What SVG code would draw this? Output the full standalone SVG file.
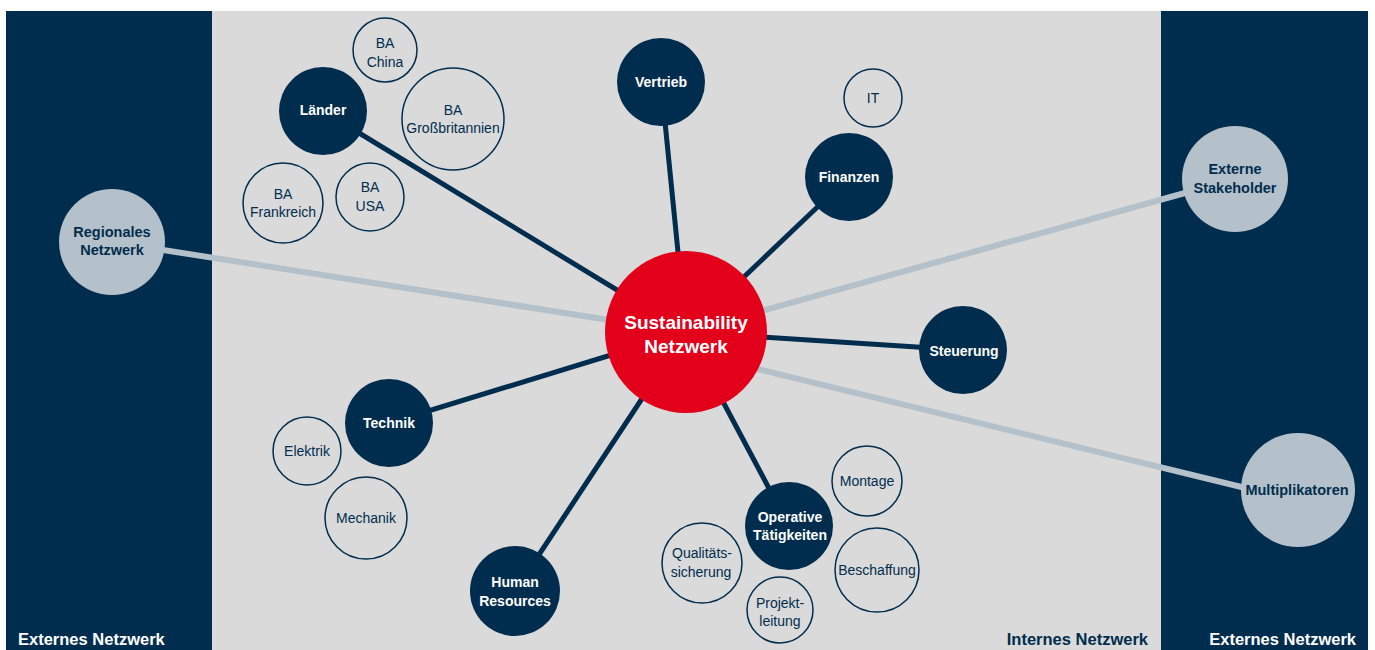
<svg xmlns="http://www.w3.org/2000/svg" width="1375" height="650" viewBox="0 0 1375 650">
<style>
.dark{fill:#002d4e}
.light{fill:#b4c1ca}
.outline{fill:none;stroke:#002d4e;stroke-width:1.5}
.hub{fill:#e2001a}
text{font-family:"Liberation Sans",Arial,sans-serif;text-anchor:middle;dominant-baseline:central}
.tw{fill:#ffffff;font-size:14px;font-weight:bold}
.td{fill:#002d4e;font-size:14.5px;font-weight:bold}
.to{fill:#002d4e;font-size:14px}
.th{fill:#ffffff;font-size:19px;font-weight:bold}
.lab{font-size:16.5px;font-weight:bold;text-anchor:start;dominant-baseline:auto}
.cd{stroke:#002d4e;stroke-width:5;fill:none}
.cl{stroke:#b4c1ca;stroke-width:6;fill:none}
</style>
<rect x="0" y="0" width="1375" height="650" fill="#ffffff"/>
<rect x="212" y="11" width="949" height="639" fill="#dadada"/>
<rect x="6" y="11" width="206" height="639" fill="#002d4e"/>
<rect x="1161" y="11" width="207" height="639" fill="#002d4e"/>
<text class="lab" x="18" y="645" fill="#ffffff">Externes Netzwerk</text>
<text class="lab" x="1148" y="645" fill="#002d4e" style="text-anchor:end">Internes Netzwerk</text>
<text class="lab" x="1356" y="645" fill="#ffffff" style="text-anchor:end">Externes Netzwerk</text>
<g id="connectors">
<line class="cl" x1="112" y1="242" x2="686" y2="332"/>
<line class="cl" x1="1235" y1="179" x2="686" y2="332"/>
<line class="cl" x1="700" y1="355" x2="1262" y2="492"/>
<line class="cd" x1="323" y1="111" x2="686" y2="332"/>
<line class="cd" x1="661" y1="82" x2="686" y2="332"/>
<line class="cd" x1="849" y1="177" x2="686" y2="332"/>
<line class="cd" x1="963" y1="350" x2="686" y2="332"/>
<line class="cd" x1="389" y1="423" x2="686" y2="332"/>
<line class="cd" x1="515" y1="591" x2="686" y2="332"/>
<line class="cd" x1="789" y1="526" x2="686" y2="332"/>
</g>
<g id="hub"><circle class="hub" cx="686" cy="332" r="81"/><text class="th" x="686" y="322">Sustainability</text><text class="th" x="686" y="346">Netzwerk</text></g>
<g id="laender"><circle class="dark" cx="323" cy="111" r="44"/><text class="tw" x="323" y="110">Länder</text></g>
<g id="vertrieb"><circle class="dark" cx="661" cy="82" r="44"/><text class="tw" x="661" y="82">Vertrieb</text></g>
<g id="finanzen"><circle class="dark" cx="849" cy="177" r="44"/><text class="tw" x="849" y="177">Finanzen</text></g>
<g id="steuerung"><circle class="dark" cx="963" cy="350" r="44"/><text class="tw" x="964" y="351">Steuerung</text></g>
<g id="technik"><circle class="dark" cx="389" cy="423" r="44"/><text class="tw" x="389" y="423">Technik</text></g>
<g id="hr"><circle class="dark" cx="515" cy="591" r="45"/><text class="tw" x="515" y="582">Human</text><text class="tw" x="515" y="601">Resources</text></g>
<g id="operative"><circle class="dark" cx="789" cy="526" r="44"/><text class="tw" x="790" y="517">Operative</text><text class="tw" x="790" y="535">Tätigkeiten</text></g>
<g id="regional"><circle class="light" cx="112" cy="242" r="53"/><text class="td" x="112" y="232">Regionales</text><text class="td" x="112" y="250">Netzwerk</text></g>
<g id="stakeholder"><circle class="light" cx="1235" cy="179" r="53"/><text class="td" x="1235" y="169">Externe</text><text class="td" x="1235" y="188">Stakeholder</text></g>
<g id="multi"><circle class="light" cx="1298" cy="490" r="57"/><text class="td" x="1297" y="490">Multiplikatoren</text></g>
<g id="ba-china"><circle class="outline" cx="385" cy="50" r="32"/><text class="to" x="385" y="43">BA</text><text class="to" x="385" y="62">China</text></g>
<g id="ba-gb"><circle class="outline" cx="453" cy="119" r="51"/><text class="to" x="453" y="110">BA</text><text class="to" x="453" y="128">Großbritannien</text></g>
<g id="ba-fr"><circle class="outline" cx="283" cy="203" r="40"/><text class="to" x="283" y="194">BA</text><text class="to" x="283" y="212">Frankreich</text></g>
<g id="ba-usa"><circle class="outline" cx="370" cy="197" r="34"/><text class="to" x="370" y="187">BA</text><text class="to" x="370" y="206">USA</text></g>
<g id="it"><circle class="outline" cx="873" cy="98" r="29"/><text class="to" x="873" y="98">IT</text></g>
<g id="elektrik"><circle class="outline" cx="307" cy="451" r="34"/><text class="to" x="307" y="451">Elektrik</text></g>
<g id="mechanik"><circle class="outline" cx="366" cy="518" r="41"/><text class="to" x="366" y="518">Mechanik</text></g>
<g id="montage"><circle class="outline" cx="867" cy="481" r="35"/><text class="to" x="867" y="481">Montage</text></g>
<g id="beschaffung"><circle class="outline" cx="877" cy="570" r="42"/><text class="to" x="877" y="570">Beschaffung</text></g>
<g id="qualitaet"><circle class="outline" cx="702" cy="563" r="40"/><text class="to" x="702" y="553">Qualitäts-</text><text class="to" x="701" y="572">sicherung</text></g>
<g id="projekt"><circle class="outline" cx="780" cy="610" r="33"/><text class="to" x="780" y="603">Projekt-</text><text class="to" x="780" y="621">leitung</text></g>
</svg>
